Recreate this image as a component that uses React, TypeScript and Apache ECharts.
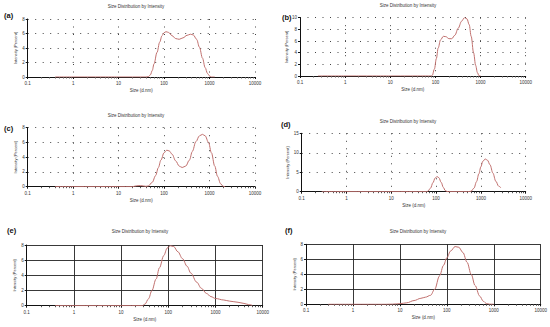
import React, { useEffect, useRef } from "react";
import * as echarts from "echarts";

// ---- data ----
const xTickLabels = ["0.1", "1", "10", "100", "1000", "10000"];
const panelLabels = ["(a)", "(b)", "(c)", "(d)", "(e)", "(f)"];
const chartTitle = "Size Distribution by Intensity";
const xAxisName = "Size (d.nm)";
const yAxisName = "Intensity (Percent)";
const yMax = [8, 10, 8, 15, 8, 8];
const yInterval = [2, 2, 2, 5, 2, 2];

const sizesA = [0.4, 1, 10, 40, 45, 50, 55, 60, 70, 80, 90, 100, 110, 125, 150, 180, 215, 260, 320, 380, 440, 520, 600, 700, 800, 900, 1000, 1100, 1300];
const intensityA = [0, 0, 0, 0, 0.05, 0.3, 0.9, 1.8, 3.4, 4.8, 5.7, 6.1, 6.25, 6.15, 5.7, 5.3, 5.2, 5.4, 5.75, 5.9, 5.8, 5.2, 4.1, 2.6, 1.3, 0.5, 0.15, 0, 0];

const sizesB = [0.25, 1, 10, 80, 85, 95, 105, 115, 130, 150, 170, 200, 230, 270, 320, 380, 440, 500, 560, 620, 700, 780, 850, 920, 1000];
const intensityB = [0, 0, 0, 0, 0.1, 1.2, 3, 4.8, 6.2, 6.8, 6.75, 6.4, 6.4, 7, 8.2, 9.4, 10, 9.8, 8.8, 6.8, 4, 1.8, 0.6, 0.05, 0];

const sizesC = [0.4, 1, 10, 20, 25, 30, 35, 40, 45, 55, 65, 75, 85, 100, 115, 130, 150, 180, 215, 250, 300, 360, 420, 500, 600, 700, 800, 950, 1100, 1300, 1500, 1750, 2000, 2200];
const intensityC = [0, 0, 0, 0, 0.12, 0.15, 0.1, 0.05, 0.1, 0.6, 1.5, 2.6, 3.6, 4.6, 4.95, 4.85, 4.4, 3.5, 2.8, 2.6, 2.8, 3.6, 4.8, 6.1, 6.9, 7.1, 6.9, 6.0, 4.6, 2.8, 1.4, 0.4, 0.05, 0];

const sizesD = [0.28, 1, 10, 60, 65, 75, 85, 95, 105, 115, 130, 145, 160, 175, 190, 500, 600, 700, 800, 900, 1000, 1100, 1250, 1400, 1600, 1850, 2150, 2500, 2800];
const intensityD = [0, 0, 0, 0, 0.1, 0.9, 2.3, 3.5, 3.9, 3.6, 2.4, 1.1, 0.3, 0.05, 0, 0, 0.1, 0.9, 2.6, 4.6, 6.4, 7.8, 8.4, 8.1, 6.9, 4.8, 2.7, 1.4, 1.0];

const sizesE = [0.4, 1, 10, 28, 32, 38, 45, 55, 65, 80, 95, 110, 130, 160, 200, 250, 300, 400, 500, 650, 800, 1000, 1500, 2000, 3000, 4000, 5000, 6000];
const intensityE = [0, 0, 0, 0, 0.2, 0.9, 2.0, 3.5, 5.0, 6.6, 7.6, 7.9, 7.8, 7.1, 6.2, 5.2, 4.3, 3.1, 2.3, 1.6, 1.2, 0.95, 0.75, 0.6, 0.45, 0.3, 0.15, 0.05];

const sizesF = [0.3, 1, 5, 7, 10, 14, 20, 28, 35, 45, 55, 70, 85, 100, 120, 150, 180, 220, 270, 330, 400, 500, 600, 700, 800, 1000];
const intensityF = [0, 0, 0, 0.02, 0.08, 0.2, 0.5, 0.8, 0.95, 1.2, 2.0, 3.8, 5.2, 6.2, 7.1, 7.7, 7.6, 6.9, 5.6, 4.0, 2.5, 1.1, 0.4, 0.1, 0.02, 0];

const panelSizes = [sizesA, sizesB, sizesC, sizesD, sizesE, sizesF];
const panelIntensity = [intensityA, intensityB, intensityC, intensityD, intensityE, intensityF];

// ---- layout ----
const grids = [
  { left: 27.7, top: 19, width: 227.3, height: 58 },
  { left: 300, top: 17.7, width: 225.7, height: 58.3 },
  { left: 27.7, top: 127.7, width: 227.3, height: 59 },
  { left: 301.7, top: 133.3, width: 224, height: 58.4 },
  { left: 26.7, top: 245, width: 236, height: 60.7 },
  { left: 306, top: 244.3, width: 235.7, height: 60 },
];
const titlePos = [
  [136, 6], [408, 5], [136, 115], [408, 121], [140, 231], [418, 231],
];
const labelPos = [
  [4, 15], [282, 17], [4, 128], [281, 124], [7, 230], [285, 230],
];
const FONT = "Liberation Sans, Arial, sans-serif";
const LINE_COLOR = "#c0706e";

export default function App() {
  const ref = useRef<HTMLDivElement>(null);
  useEffect(() => {
    if (!ref.current) return;
    const chart = echarts.init(ref.current, undefined, { renderer: "svg" });
    const boxed = (i: number) => i >= 4;
    const option: any = {
      animation: false,
      backgroundColor: "#ffffff",
      grid: grids.map((g) => ({ ...g, containLabel: false })),
      xAxis: grids.map((_, i) => ({
        type: "log",
        logBase: 10,
        gridIndex: i,
        min: 0.1,
        max: 10000,
        name: xAxisName,
        nameLocation: "middle",
        nameGap: 11,
        nameTextStyle: { fontSize: 4.5, color: "#333", fontFamily: FONT },
        axisLine: { show: true, lineStyle: { color: "#111", width: 1 } },
        axisTick: { show: true, length: 2, lineStyle: { color: "#111" } },
        minorTick: { show: true, splitNumber: 9, length: 1.5, lineStyle: { color: "#555" } },
        axisLabel: {
          fontSize: 4.5,
          color: "#333",
          fontFamily: FONT,
          margin: 4,
          formatter: (v: number) => xTickLabels[Math.round(Math.log10(v)) + 1] ?? "",
        },
        splitLine: {
          show: true,
          lineStyle: boxed(i)
            ? { color: "#222", width: 0.9, type: "solid" }
            : { color: "#444", width: 1, type: [1, 6.5] },
        },
      })),
      yAxis: grids.map((_, i) => ({
        type: "value",
        gridIndex: i,
        min: 0,
        max: yMax[i],
        interval: yInterval[i],
        name: yAxisName,
        nameLocation: "middle",
        nameGap: i === 1 ? 12 : 10,
        nameTextStyle: { fontSize: 4, color: "#333", fontFamily: FONT },
        axisLine: { show: true, lineStyle: { color: "#111", width: 1 } },
        axisTick: { show: true, length: 2, lineStyle: { color: "#111" } },
        axisLabel: { fontSize: 4.5, color: "#333", fontFamily: FONT, margin: 3 },
        splitLine: {
          show: true,
          lineStyle: boxed(i)
            ? { color: "#222", width: 0.9, type: "solid" }
            : { color: "#444", width: 1, type: [1, 6.5] },
        },
      })),
      series: panelSizes.map((sizes, i) => ({
        type: "line",
        xAxisIndex: i,
        yAxisIndex: i,
        data: sizes.map((s, k) => [s, panelIntensity[i][k]]),
        showSymbol: false,
        smooth: 0.35,
        smoothMonotone: "x",
        lineStyle: { color: LINE_COLOR, width: 1 },
        z: 5,
      })),
      graphic: [
        ...titlePos.map(([x, y]) => ({
          type: "text",
          x,
          y,
          style: {
            text: chartTitle,
            fontSize: 4.5,
            fill: "#333",
            fontFamily: FONT,
            align: "center",
            verticalAlign: "middle",
          },
        })),
        ...labelPos.map(([x, y], i) => ({
          type: "text",
          x,
          y,
          style: {
            text: panelLabels[i],
            fontSize: 7.5,
            fontWeight: "bold",
            fill: "#111",
            fontFamily: FONT,
            align: "left",
            verticalAlign: "middle",
          },
        })),
      ],
    };
    chart.setOption(option);
    return () => chart.dispose();
  }, []);
  return (
    <div
      ref={ref}
      style={{ position: "absolute", left: 0, top: 0, width: 550, height: 327 }}
    />
  );
}
